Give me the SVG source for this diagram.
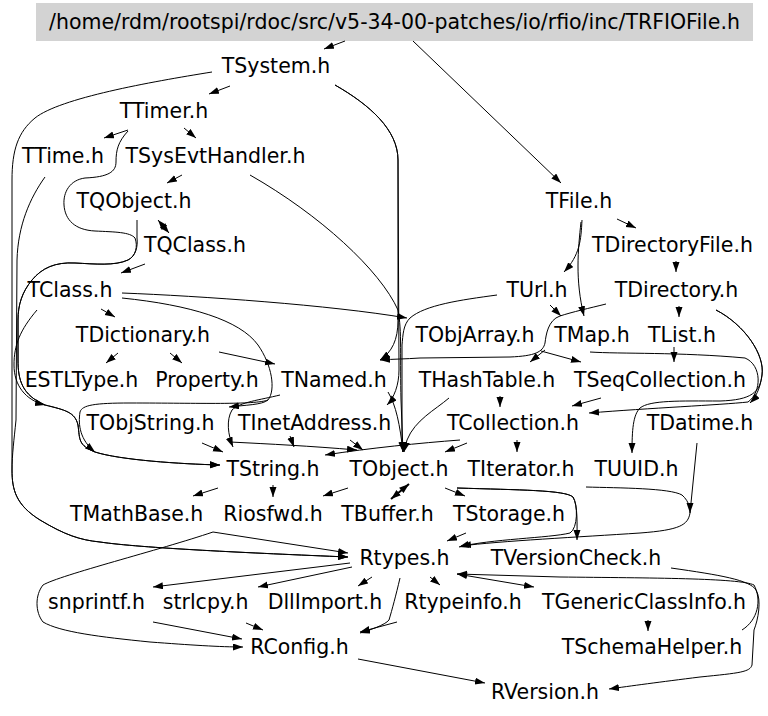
<svg xmlns="http://www.w3.org/2000/svg" width="768" height="716" viewBox="0 0 768 716">
<defs>
<marker id="ah" markerUnits="userSpaceOnUse" markerWidth="11" markerHeight="8" refX="10" refY="3.5" orient="auto">
<path d="M0,0 L10,3.5 L0,7 z" fill="#000"/>
</marker>
<marker id="as" markerUnits="userSpaceOnUse" markerWidth="11" markerHeight="8" refX="0" refY="3.5" orient="auto">
<path d="M10,0 L0,3.5 L10,7 z" fill="#000"/>
</marker>
</defs>
<style>
text{font-family:"DejaVu Sans","Liberation Sans",sans-serif;font-size:20.5px;fill:#000;text-anchor:middle}
.e path{fill:none;stroke:#000;stroke-width:1;marker-end:url(#ah)}
.e path.n{marker-end:none}
.e path.d{marker-start:url(#as)}
</style>
<rect width="768" height="716" fill="#fff"/>
<g id="n_TRFIOFile"><rect x="36" y="3" width="717" height="38" fill="#d3d3d3"/><text x="394.5" y="29">/home/rdm/rootspi/rdoc/src/v5-34-00-patches/io/rfio/inc/TRFIOFile.h</text></g>
<g id="n_TSystem"><text x="276" y="73">TSystem.h</text></g>
<g id="n_TTimer"><text x="164" y="118">TTimer.h</text></g>
<g id="n_TTime"><text x="63" y="163">TTime.h</text></g>
<g id="n_TSysEvtHandler"><text x="215.5" y="163">TSysEvtHandler.h</text></g>
<g id="n_TQObject"><text x="134" y="208">TQObject.h</text></g>
<g id="n_TQClass"><text x="195" y="252">TQClass.h</text></g>
<g id="n_TClass"><text x="70" y="297">TClass.h</text></g>
<g id="n_TDictionary"><text x="143" y="342">TDictionary.h</text></g>
<g id="n_ESTLType"><text x="81.5" y="387">ESTLType.h</text></g>
<g id="n_Property"><text x="207" y="387">Property.h</text></g>
<g id="n_TNamed"><text x="334" y="387">TNamed.h</text></g>
<g id="n_TObjString"><text x="150.5" y="430">TObjString.h</text></g>
<g id="n_TInetAddress"><text x="314.7" y="430">TInetAddress.h</text></g>
<g id="n_TString"><text x="273" y="475.5">TString.h</text></g>
<g id="n_TObject"><text x="399" y="475.5">TObject.h</text></g>
<g id="n_TIterator"><text x="521" y="475.5">TIterator.h</text></g>
<g id="n_TUUID"><text x="636.5" y="475.5">TUUID.h</text></g>
<g id="n_TMathBase"><text x="136.7" y="520.5">TMathBase.h</text></g>
<g id="n_Riosfwd"><text x="273" y="520.5">Riosfwd.h</text></g>
<g id="n_TBuffer"><text x="387.5" y="520.5">TBuffer.h</text></g>
<g id="n_TStorage"><text x="509" y="520.5">TStorage.h</text></g>
<g id="n_Rtypes"><text x="404.5" y="565">Rtypes.h</text></g>
<g id="n_TVersionCheck"><text x="576" y="565">TVersionCheck.h</text></g>
<g id="n_snprintf"><text x="96.5" y="609">snprintf.h</text></g>
<g id="n_strlcpy"><text x="205.7" y="609">strlcpy.h</text></g>
<g id="n_DllImport"><text x="325" y="609">DllImport.h</text></g>
<g id="n_Rtypeinfo"><text x="463" y="609">Rtypeinfo.h</text></g>
<g id="n_TGenericClassInfo"><text x="644" y="609">TGenericClassInfo.h</text></g>
<g id="n_TSchemaHelper"><text x="652" y="654">TSchemaHelper.h</text></g>
<g id="n_RConfig"><text x="299.5" y="654">RConfig.h</text></g>
<g id="n_RVersion"><text x="545" y="698.5">RVersion.h</text></g>
<g id="n_TFile"><text x="579" y="207.5">TFile.h</text></g>
<g id="n_TDirectoryFile"><text x="672.5" y="252">TDirectoryFile.h</text></g>
<g id="n_TUrl"><text x="537" y="297">TUrl.h</text></g>
<g id="n_TDirectory"><text x="676.5" y="297">TDirectory.h</text></g>
<g id="n_TObjArray"><text x="475" y="342">TObjArray.h</text></g>
<g id="n_TMap"><text x="592" y="342">TMap.h</text></g>
<g id="n_TList"><text x="682" y="342">TList.h</text></g>
<g id="n_THashTable"><text x="487" y="387">THashTable.h</text></g>
<g id="n_TSeqCollection"><text x="660" y="387">TSeqCollection.h</text></g>
<g id="n_TCollection"><text x="513" y="430">TCollection.h</text></g>
<g id="n_TDatime"><text x="700" y="430">TDatime.h</text></g>
<g id="edges" class="e">
<path d="M345,41 L324,49"/>
<path d="M413,41 L561,183"/>
<path d="M230,86 L209,94"/>
<path d="M212,72 C150,82 60,98 35,118 C18,132 12,150 12,180 L12,470 C12,490 16,505 40,520 C65,535 80,540 100,542 C140,548 250,553 348,557"/>
<path d="M45,177 C30,198 18,225 17,260 L16,420 C14,440 12,455 12,470 C12,490 16,505 40,520 C65,535 80,540 100,542 C140,548 250,553 348,557"/>
<path d="M128,130 L104,138"/>
<path d="M184,128 L196,138"/>
<path d="M128,131 C118,142 116,150 116,162 C116,172 108,177 85,178 C70,180 63,192 64,205 C65,220 75,230 95,231 C115,232 130,232 135,238 C138,246 136,256 128,260 C115,266 95,264 75,263 C55,262 42,268 32,280 C22,292 18,305 18,320 L18,360 C18,380 22,395 45,405 C65,410 75,412 78,425 C80,440 78,445 95,452 C120,460 180,464 220,465"/>
<path d="M137,220 L137,238 C138,246 136,256 128,260 C115,266 95,264 75,263 C55,262 42,268 32,280 C22,292 18,305 18,320 L18,360 C18,380 22,395 45,405 C65,410 75,412 78,425 C80,440 78,445 95,452 C120,460 180,464 220,465"/>
<path d="M182,175 L167,183"/>
<path class="d" d="M158,220 L169,233"/>
<path d="M145,264 L121,273"/>
<path d="M101,309 L115,317"/>
<path d="M122,293 C200,296 330,305 407,318"/>
<path d="M37,310 C20,330 14,345 14,365 C14,385 25,400 45,405"/>
<path d="M122,298 C190,305 240,320 258,345 C272,365 276,390 268,400 C262,405 245,405 229,407"/>
<path d="M268,400 C255,405 200,403 130,403 C95,403 82,405 80,412 C78,425 80,440 95,452"/>
<path d="M118,353 L106,363"/>
<path d="M170,353 L182,363"/>
<path d="M219,352 L275,364"/>
<path d="M617,219 L636,228"/>
<path d="M582,220 C581,240 580,255 564,272"/>
<path d="M581,222 C578,250 575,280 584,316"/>
<path d="M676,261 L676,272"/>
<path d="M679,306 L679,317"/>
<path d="M716,310 C745,325 765,355 762,375 C760,390 755,398 750,403"/>
<path d="M716,310 C745,325 765,355 762,375 C760,392 752,400 720,401 C680,401 650,400 640,408 C633,415 632,430 632,453"/>
<path d="M606,304 C590,308 572,312 560,316 C548,320 546,335 545,343 C543,352 535,356 510,357 L420,358 C405,359 395,359 380,360"/>
<path d="M550,305 L561,316"/>
<path d="M497,295 C460,300 425,305 410,318 C403,325 403,335 402,345 L402,440 C402,445 403,448 403,452"/>
<path d="M335,85 C370,105 398,130 398,160 L398,320 C398,340 392,352 380,360"/>
<path d="M335,85 C370,105 398,130 398,160 L399,370 C399,385 394,398 387,405"/>
<path d="M250,175 C320,215 380,270 398,310 C402,330 400,360 401,400 L403,452"/>
<path d="M388,392 C396,405 400,425 403,452"/>
<path d="M280,395 C260,400 240,402 232,410 C226,420 228,435 233,447"/>
<path d="M202,443 L223,452"/>
<path d="M230,442 C270,444 310,446 357,450"/>
<path d="M290,436 L294,447"/>
<path d="M350,440 L363,450"/>
<path d="M449,398 C435,410 415,420 407,440 L404,452"/>
<path d="M460,440 C420,443 370,448 325,455"/>
<path d="M467,443 L445,452"/>
<path d="M517,440 L517,452"/>
<path d="M500,396 L500,407"/>
<path d="M601,398 L572,406"/>
<path d="M541,351 L581,362"/>
<path d="M545,350 L530,362"/>
<path d="M590,352 C620,354 680,352 745,358 C762,365 762,392 748,402 C720,405 650,408 589,413"/>
<path d="M674,347 L674,362"/>
<path d="M697,443 L690,513 C688,525 680,530 640,533 C580,537 500,541 461,546"/>
<path d="M586,487 C620,488 670,488 682,495 C690,502 690,510 690,513"/>
<path d="M457,488 C520,490 565,490 573,497 C578,505 577,525 577,540"/>
<path d="M457,488 C520,490 565,490 573,497 C578,505 578,528 570,533 C550,538 490,539 459,547"/>
<path d="M445,488 L465,496"/>
<path class="d" d="M409,484 L391,499" style="stroke-width:2"/>
<path d="M348,488 L323,496"/>
<path d="M218,488 L193,496"/>
<path d="M273,485 L273,497"/>
<path d="M466,533 L447,541"/>
<path d="M213,532 L348,553"/>
<path d="M213,532 C160,550 60,575 43,585 C35,595 35,612 43,622 C60,632 100,637 150,642 C190,645 220,647 243,647"/>
<path d="M742,630 C758,620 762,600 754,585 C740,578 650,578 560,577 L457,574"/>
<path class="d" d="M457,574 L534,587"/>
<path d="M648,620 L648,631"/>
<path d="M671,568 C720,575 750,580 756,590 C762,600 758,620 754,630 L752,665 C750,672 740,673 700,677 C660,682 630,686 609,689"/>
<path d="M350,563 L153,587"/>
<path d="M352,567 L258,587"/>
<path d="M372,577 L358,586"/>
<path d="M430,577 L440,585"/>
<path d="M400,578 C396,595 392,610 389,620 C385,625 370,630 360,633"/>
<path d="M397,622 L360,632"/>
<path d="M153,622 L242,639"/>
<path d="M246,623 L263,630"/>
<path d="M358,659 L485,683"/>
</g>
</svg>
